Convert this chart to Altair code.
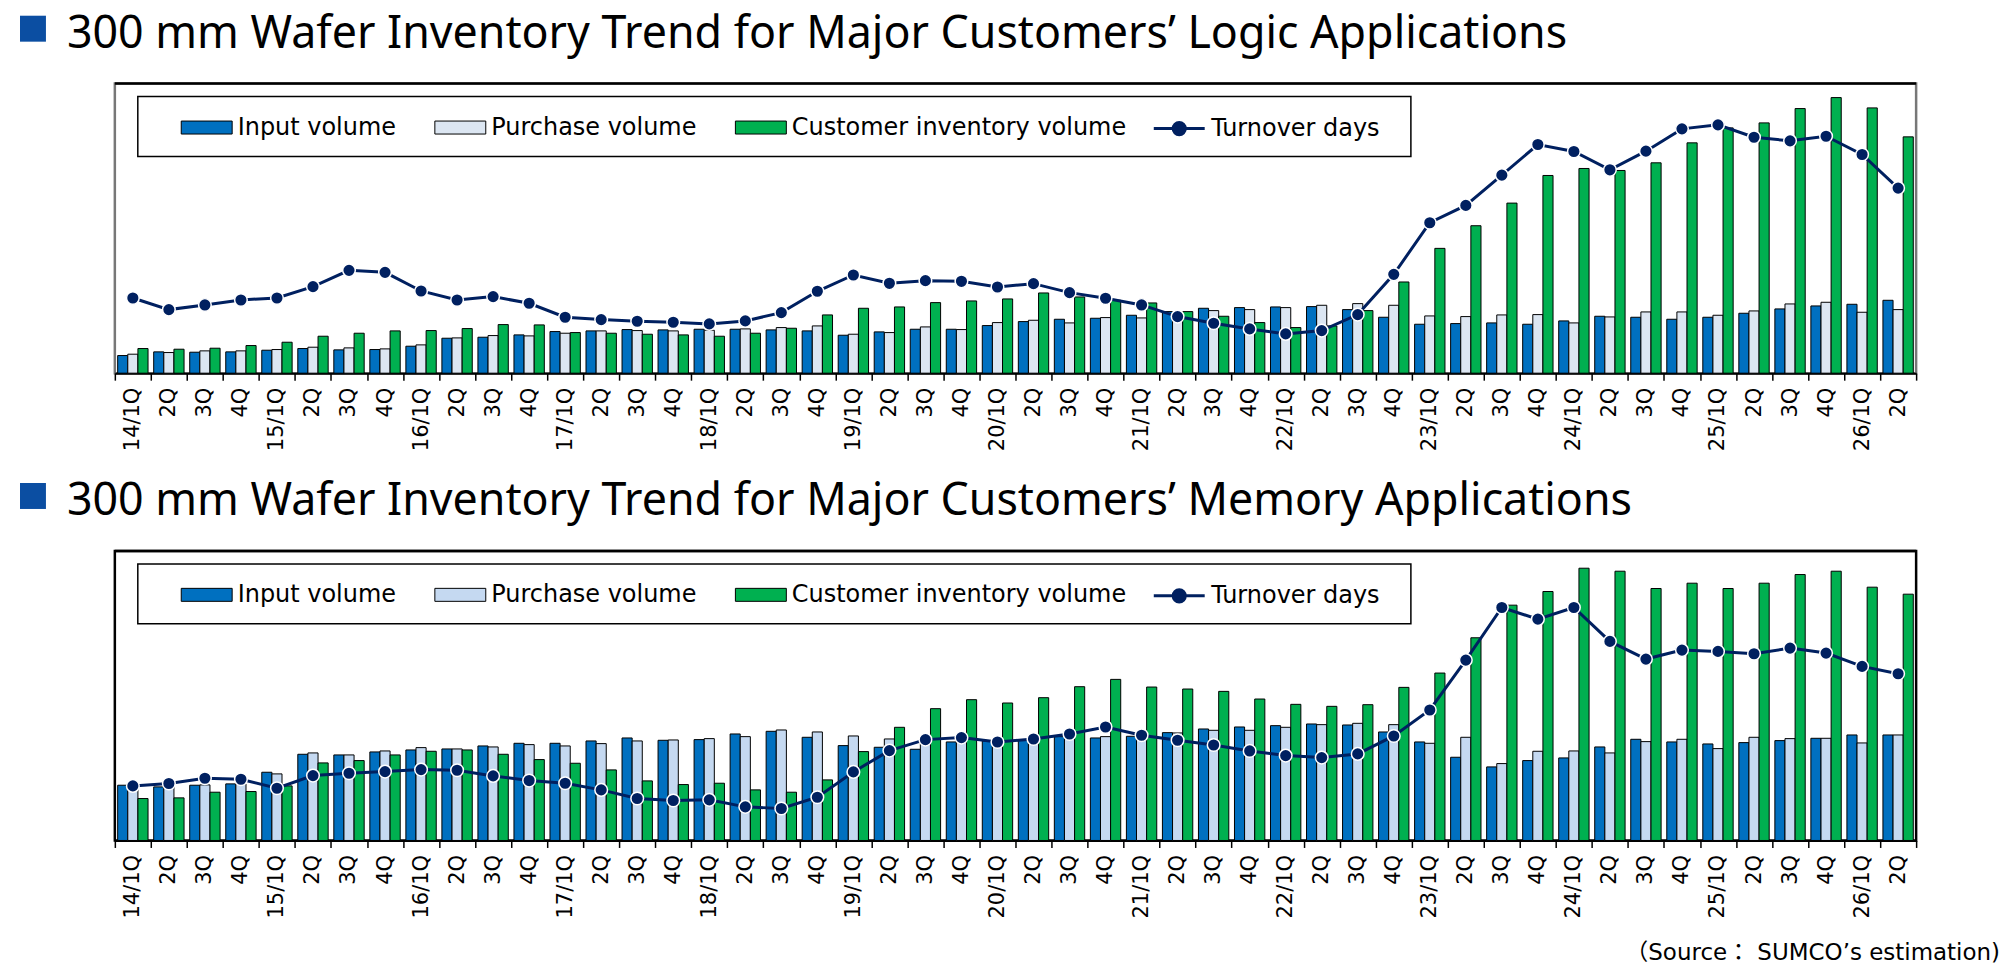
import altair as alt
import pandas as pd

quarters = [f"{y}/{q}Q" for y in range(14, 27) for q in range(1, 5)][:50]

series_names = ["Input volume", "Purchase volume", "Customer inventory volume"]
line_name = "Turnover days"

# values (index units, no axis in the original)
logic_input = [53, 64, 63, 64, 69, 74, 70, 71, 81, 105, 108, 115, 125, 127, 131, 130,
               132, 132, 130, 127, 114, 124, 132, 132, 143, 155, 162, 165, 174, 185, 195, 197,
               199, 200, 191, 168, 147, 149, 151, 147, 157, 171, 168, 162, 168, 180, 193, 202,
               207, 219]
logic_purchase = [57, 62, 67, 67, 71, 78, 76, 73, 85, 106, 113, 112, 120, 127, 128, 127,
                  129, 133, 137, 142, 117, 122, 139, 131, 152, 159, 151, 167, 166, 182, 188, 191,
                  197, 204, 209, 204, 172, 170, 175, 176, 151, 169, 184, 184, 174, 187, 208, 213,
                  183, 191]
logic_inventory = [74, 72, 75, 83, 93, 111, 120, 127, 128, 134, 146, 145, 122, 120, 117, 115,
                   111, 120, 135, 175, 195, 199, 212, 217, 223, 241, 229, 219, 211, 185, 171, 152,
                   137, 142, 188, 274, 375, 443, 511, 594, 615, 609, 632, 692, 737, 752, 795, 828,
                   797, 710]
logic_days = [226, 191, 205, 220, 226, 260, 309, 303, 247, 220, 230, 210, 168, 161, 156, 153,
              148, 157, 182, 246, 295, 270, 278, 276, 259, 269, 242, 225, 205, 170, 150, 133,
              118, 128, 176, 297, 452, 504, 595, 687, 666, 611, 667, 734, 746, 709, 698, 712,
              657, 556]

memory_input = [166, 161, 166, 170, 205, 259, 257, 266, 272, 275, 284, 292, 292, 299, 308, 301,
                303, 320, 328, 310, 285, 280, 274, 296, 299, 302, 312, 308, 313, 324, 335, 341,
                345, 350, 347, 326, 296, 250, 221, 240, 248, 281, 304, 296, 290, 294, 300, 307,
                317, 317]
memory_purchase = [163, 167, 167, 170, 200, 263, 257, 269, 279, 275, 281, 288, 284, 291, 299, 302,
                   306, 312, 332, 326, 314, 305, 299, 307, 299, 307, 319, 312, 317, 323, 331, 331,
                   340, 348, 352, 348, 292, 310, 231, 268, 269, 263, 297, 304, 276, 310, 306, 307,
                   293, 317]
memory_inventory = [126, 128, 145, 147, 164, 233, 240, 257, 268, 272, 259, 243, 232, 212, 179, 168,
                    172, 152, 145, 182, 267, 340, 396, 423, 413, 429, 462, 484, 461, 455, 448, 425,
                    409, 403, 408, 460, 503, 609, 707, 748, 818, 809, 757, 773, 757, 773, 799, 809,
                    761, 740]
memory_days = [164, 171, 187, 184, 157, 195, 202, 207, 213, 211, 194, 180, 172, 152, 126, 120,
               122, 101, 96, 130, 206, 270, 303, 309, 296, 305, 320, 341, 316, 301, 287, 269,
               255, 249, 260, 314, 392, 542, 700, 665, 700, 598, 545, 572, 568, 561, 578, 563,
               523, 501]

BAR_PATH = "M-1,-0.255H1V0.255H-1Z"
LINE_PATH = ("M-1,0H1M0.24,0A0.24,0.24,0,1,1,-0.24,0"
             "A0.24,0.24,0,1,1,0.24,0Z")


def make_panel(title, values, days, purchase_color, frame_color, source=None):
    rows = []
    for name, vals in zip(series_names, values):
        for q, v in zip(quarters, vals):
            rows.append({"quarter": q, "series": name, "value": v})
    bar_df = pd.DataFrame(rows)
    line_df = pd.DataFrame({"quarter": quarters, "days": days, "name": line_name})
    one = pd.DataFrame({"a": [0]})

    y_scale = alt.Scale(domain=[0, 870], nice=False, zero=True)
    x_enc = alt.X(
        "quarter:N",
        sort=quarters,
        title=None,
        scale=alt.Scale(paddingInner=0, paddingOuter=0),
        axis=alt.Axis(
            labelAngle=270,
            labelAlign="right",
            labelBaseline="middle",
            labelExpr="indexof(datum.label, '/1Q') > 0 ? datum.label : split(datum.label, '/')[1]",
            labelFont="DejaVu Sans",
            labelFontSize=21,
            labelColor="black",
            labelPadding=7,
            labelOverlap=False,
            labelBound=False,
            tickBand="extent",
            tickColor="black",
            tickSize=7,
            tickWidth=1.5,
            domainColor="black",
            domainWidth=2,
            grid=False,
        ),
    )

    box = alt.Chart(one).mark_rect(fill="white", stroke="black", strokeWidth=1.5).encode(
        x=alt.value(23), x2=alt.value(1298), y=alt.value(13), y2=alt.value(73)
    )
    top_edge = alt.Chart(one).mark_rule(color="black", strokeWidth=2.5).encode(
        x=alt.value(0), x2=alt.value(1804), y=alt.value(0)
    )

    legend_style = dict(
        title=None,
        orient="none",
        legendY=18,
        symbolSize=2601,
        labelFont="DejaVu Sans",
        labelFontSize=24,
        labelColor="black",
        labelOffset=5,
        labelLimit=0,
        padding=0,
    )

    bars = alt.Chart(bar_df).mark_bar(stroke="black", strokeWidth=1, opacity=1).encode(
        x=x_enc,
        xOffset=alt.XOffset("series:N", sort=series_names, scale=alt.Scale(paddingOuter=0.28)),
        y=alt.Y("value:Q", scale=y_scale, axis=None),
        fill=alt.Fill(
            "series:N",
            sort=series_names,
            scale=alt.Scale(domain=series_names, range=["#0070C0", purchase_color, "#00B050"]),
            legend=alt.Legend(
                legendX=66,
                direction="horizontal",
                symbolType=BAR_PATH,
                symbolStrokeColor="black",
                symbolStrokeWidth=1,
                symbolOpacity=1,
                columnPadding=36,
                **legend_style,
            ),
        ),
    )

    line = alt.Chart(line_df).mark_line(strokeWidth=3).encode(
        x=x_enc,
        y=alt.Y("days:Q", scale=y_scale, axis=None),
        stroke=alt.Stroke(
            "name:N",
            scale=alt.Scale(domain=[line_name], range=["#002060"]),
            legend=alt.Legend(
                legendX=1039,
                symbolType=LINE_PATH,
                symbolStrokeWidth=3,
                symbolFillColor="#002060",
                **legend_style,
            ),
        ),
    )

    dots = alt.Chart(line_df).mark_circle(
        size=160, color="#002060", stroke="white", strokeWidth=1.5, opacity=1
    ).encode(x=x_enc, y=alt.Y("days:Q", scale=y_scale, axis=None))

    square = alt.Chart(one).mark_square(size=676, color="#0B4EA2", opacity=1).encode(
        x=alt.value(-82), y=alt.value(-55)
    )
    heading = alt.Chart(one).mark_text(
        text=title, align="left", baseline="alphabetic", font="Noto Sans",
        fontSize=44.8, color="black"
    ).encode(x=alt.value(-48), y=alt.value(-36))

    layers = [box, top_edge, bars, line, dots, square, heading]
    if source:
        layers.append(
            alt.Chart(one).mark_text(
                text=source, align="right", baseline="alphabetic",
                font="DejaVu Sans, Noto Sans CJK JP", fontSize=23, color="black"
            ).encode(x=alt.value(1888), y=alt.value(410))
        )

    return alt.layer(*layers).properties(
        width=1804,
        height=290,
        view=alt.ViewBackground(stroke=frame_color, strokeWidth=2.5),
    )


top = make_panel(
    "300 mm Wafer Inventory Trend for Major Customers’ Logic Applications",
    [logic_input, logic_purchase, logic_inventory],
    logic_days,
    "#DCE6F2",
    "#777777",
)
bottom = make_panel(
    "300 mm Wafer Inventory Trend for Major Customers’ Memory Applications",
    [memory_input, memory_purchase, memory_inventory],
    memory_days,
    "#C5D9F1",
    "#000000",
    source="（Source： SUMCO’s estimation)",
)

chart = (
    alt.vconcat(top, bottom, spacing=25)
    .resolve_scale(fill="independent", stroke="independent")
    .resolve_legend(fill="independent", stroke="independent")
    .properties(padding={"left": 10, "top": 1, "right": 0, "bottom": 0})
    .configure(background="white")
    .configure_view(stroke=None)
)

chart.save("out.html", embed_options={"renderer": "svg", "actions": False})
